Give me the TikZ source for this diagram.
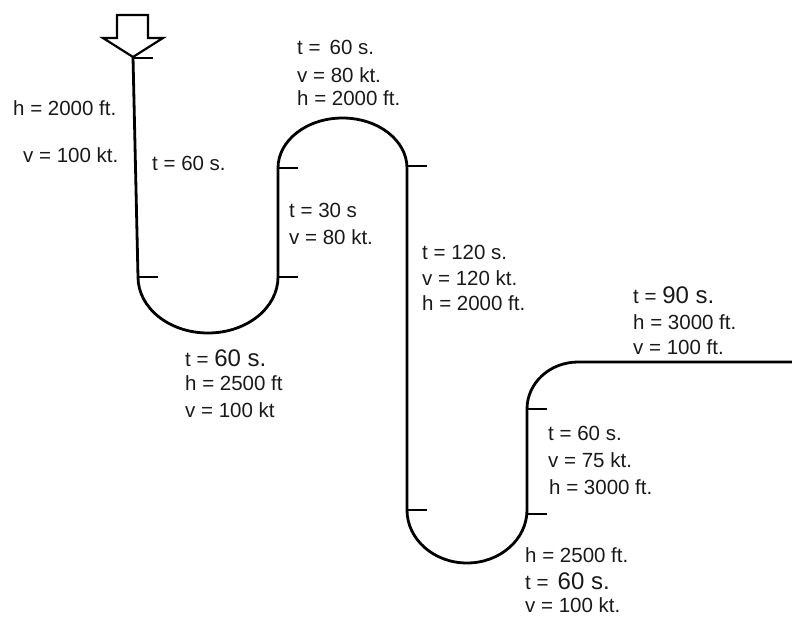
\documentclass[tikz,border=0pt]{standalone}
\usepackage{fontspec}
\setmainfont{Liberation Sans}
\newcommand{\bigfig}[1]{{\fontsize{24}{28}\selectfont #1}}

\begin{document}
\begin{tikzpicture}[x=1pt, y=-1pt,
  flight/.style={line width=2.8pt, line join=round},
  tick/.style={line width=2.2pt},
  lbl/.style={anchor=base west, inner sep=0pt, font=\fontsize{20.5}{24}\selectfont, text=black!90}]
  \useasboundingbox (0,0) rectangle (792,616);
  % entry arrow
  \draw[line width=2.2pt] (117,15) -- (148,15) -- (148,38) -- (163,38) -- (133,57)
    -- (103,38) -- (117,38) -- cycle;
  \coordinate (entry) at (133,57);
  \coordinate (a1) at (138,277);
  \coordinate (a2) at (278,168);
  \coordinate (a3) at (407,510);
  \coordinate (a4) at (527,409);
  \coordinate (exit) at (792,362);
  % flight path
  \draw[flight] (entry) -- (a1)
    arc[start angle=180, end angle=360, x radius=70pt, y radius=56pt] -- (a2)
    arc[start angle=180, end angle=0, x radius=64.5pt, y radius=50pt] -- (a3)
    arc[start angle=180, end angle=360, x radius=60pt, y radius=53pt] -- (a4)
    arc[start angle=180, end angle=90, x radius=51pt, y radius=47pt] -- (exit);
  % segment marks
  \foreach \x/\y in {133/58, 138/277, 278/168, 278/277, 407/166, 407/510, 527/409, 527/514}
    \draw[tick] (\x,\y) -- ++(20,0);
  % labels
  \node[lbl] (h1) at (13,115) {h = 2000 ft.};
  \node[lbl] (v1) at (23,162) {v = 100 kt.};
  \node[lbl] (t1) at (152,170) {t = 60 s.};
  \node[lbl] (t2) at (297,54) {t = \,60 s.};
  \node[lbl] (v2) at (297,82) {v = 80 kt.};
  \node[lbl] (h2) at (297,105) {h = 2000 ft.};
  \node[lbl] (t3) at (289,217) {t = 30 s};
  \node[lbl] (v3) at (289,244) {v = 80 kt.};
  \node[lbl] (t4) at (422,259) {t = 120 s.};
  \node[lbl] (v4) at (422,285) {v = 120 kt.};
  \node[lbl] (h4) at (422,310) {h = 2000 ft.};
  \node[lbl] (t5) at (633,303) {t = \bigfig{90 s.}};
  \node[lbl] (h5) at (633,329) {h = 3000 ft.};
  \node[lbl] (v5) at (633,354) {v = 100 ft.};
  \node[lbl] (t6) at (185,366) {t = \bigfig{60 s.}};
  \node[lbl] (h6) at (185,390) {h = 2500 ft};
  \node[lbl] (v6) at (185,417) {v = 100 kt};
  \node[lbl] (t7) at (548,440) {t = 60 s.};
  \node[lbl] (v7) at (548,467) {v = 75 kt.};
  \node[lbl] (h7) at (549,494) {h = 3000 ft.};
  \node[lbl] (h8) at (525,562) {h = 2500 ft.};
  \node[lbl] (t8) at (525,589) {t = \,\bigfig{60 s.}};
  \node[lbl] (v8) at (525,612) {v = 100 kt.};
\end{tikzpicture}
\end{document}
